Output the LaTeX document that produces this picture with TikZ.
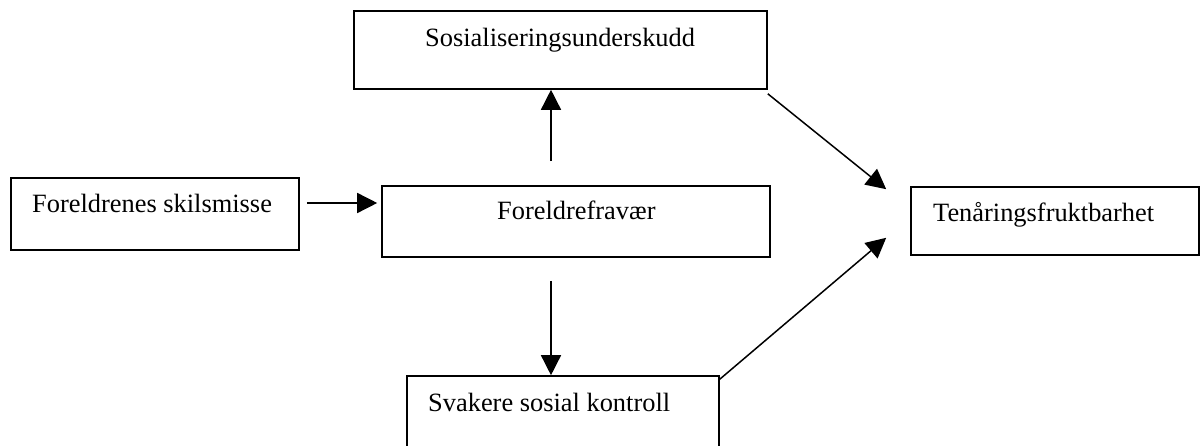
\documentclass[tikz,border=0pt]{standalone}
\usepackage{fontspec}
\setmainfont{Liberation Serif}
\usepackage{tikz}
\usetikzlibrary{arrows.meta,calc}

\begin{document}
\begin{tikzpicture}[x=1pt, y=-1pt,
    box/.style={draw=black, line width=1.6pt, inner sep=0pt, rectangle},
    lbl/.style={anchor=base west, inner sep=0pt, font=\fontsize{26.4}{30}\selectfont},
    arr/.style={line width=1.5pt, -{Triangle[length=20pt, width=20pt]}}]
    % Page
    \clip (0,0) rectangle (1203,446);
    \fill[white] (0,0) rectangle (1203,446);

    % Boxes
    \node[box, minimum width=413pt, minimum height=78pt] (sos) at (560.5,50) {};
    \node[box, minimum width=288pt, minimum height=72pt] (skil) at (155,214) {};
    \node[box, minimum width=388pt, minimum height=71pt] (fravaer) at (576,221.5) {};
    \node[box, minimum width=288pt, minimum height=68pt] (tenar) at (1055,221) {};
    \node[box, minimum width=312pt, minimum height=76pt] (ctrl) at (563,414) {};

    % Labels
    \node[lbl] (sostxt) at (425,47) {Sosialiseringsunderskudd};
    \node[lbl] (skiltxt) at (32,213) {Foreldrenes skilsmisse};
    \node[lbl] (fravaertxt) at (497,220) {Foreldrefravær};
    \node[lbl] (tenartxt) at (933,222) {Tenåringsfruktbarhet};
    \node[lbl] (ctrltxt) at (428,412) {Svakere sosial kontroll};

    % Arrows
    \coordinate (upfoot) at ([xshift=-25pt]fravaer.north);
    \coordinate (downfoot) at ([xshift=-25pt]fravaer.south);
    \draw[arr, shorten <=7pt, shorten >=4pt] ([yshift=11pt]skil.east) -- ([yshift=18.5pt]fravaer.west);
    \draw[arr, shorten <=24pt] (upfoot) -- (upfoot |- sos.south);
    \draw[arr, shorten <=23pt] (downfoot) -- (downfoot |- ctrl.north);
    \draw[arr] ([yshift=-4pt]sos.south east) -- ([xshift=-24pt, yshift=-3pt]tenar.north west);
    \draw[arr] ([yshift=-4pt]ctrl.north east) -- ([xshift=-24pt, yshift=18pt]tenar.south west);
\end{tikzpicture}
\end{document}
